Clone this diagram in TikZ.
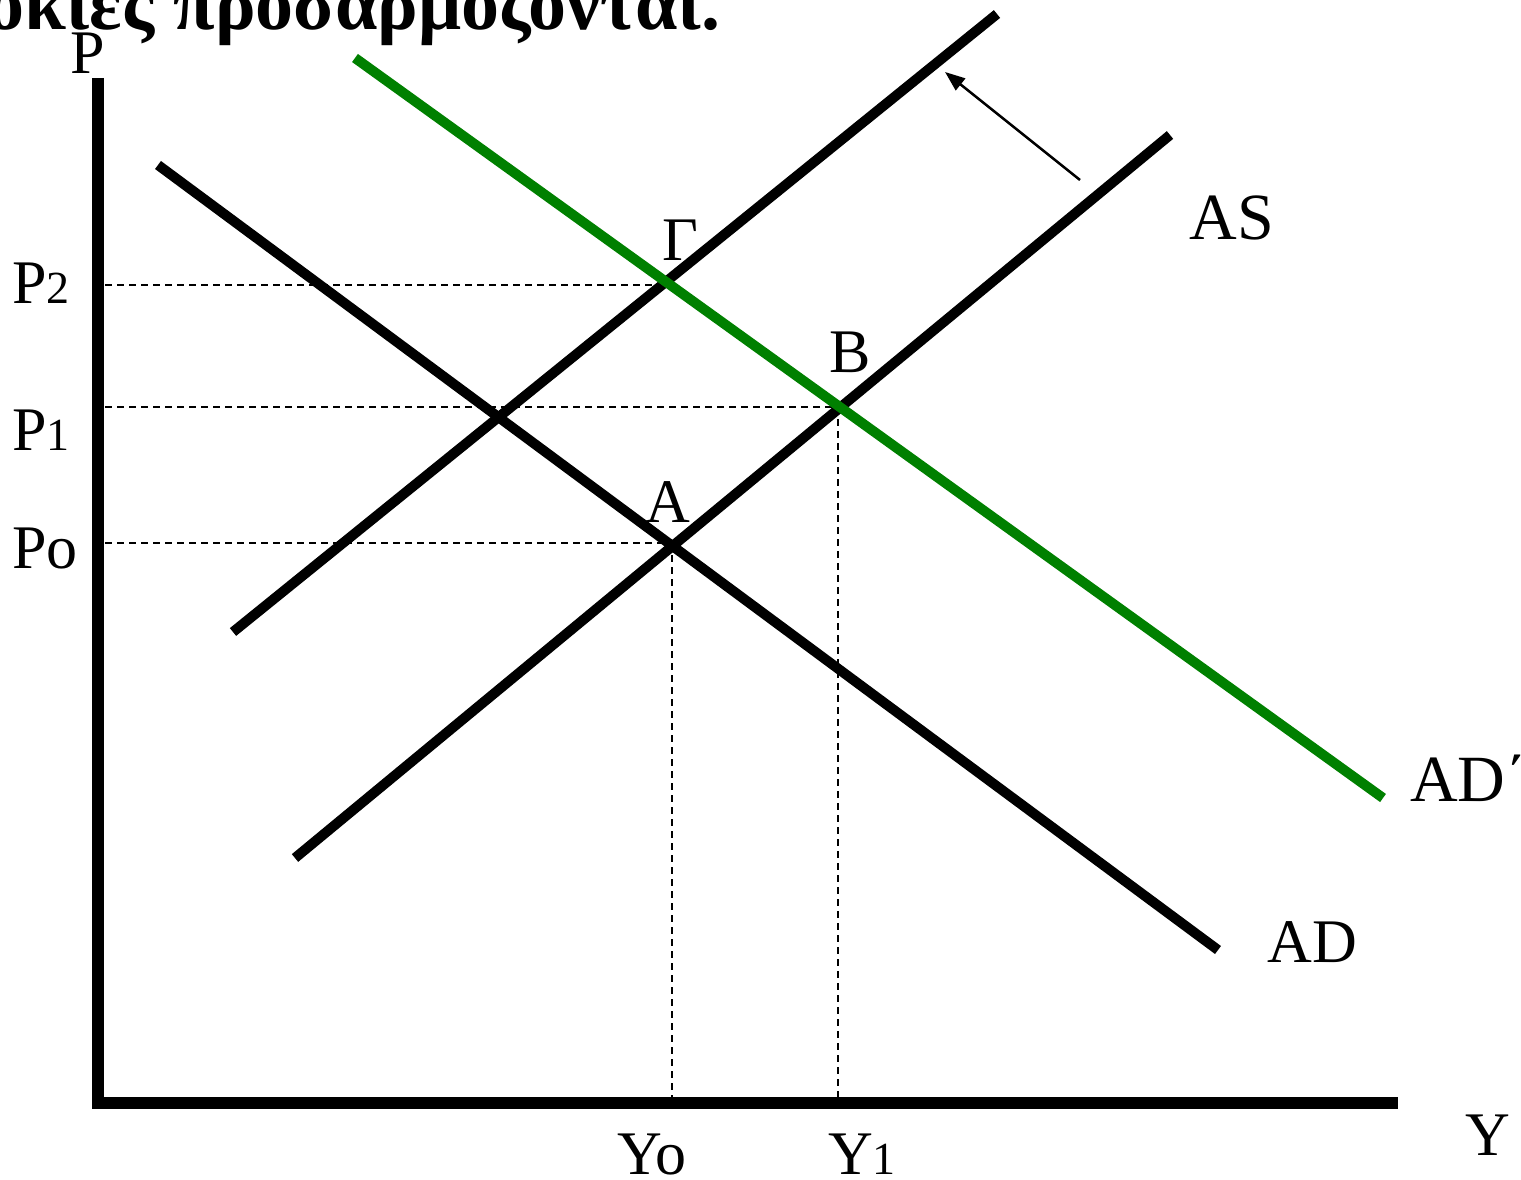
\documentclass[tikz,border=0pt]{standalone}
\usepackage{fontspec}
\setmainfont{Liberation Serif}
\usetikzlibrary{arrows.meta}
\begin{document}
\begin{tikzpicture}[x=1pt,y=-1pt,
  curve/.style={line width=10pt},
  axisline/.style={line width=12pt},
  guide/.style={line width=1.8pt,dash pattern=on 7pt off 5pt},
  lbl/.style={font=\fontsize{62}{70}\selectfont, inner sep=0pt},
  biglbl/.style={font=\fontsize{66}{74}\selectfont, inner sep=0pt},
  shiftarrow/.style={line width=2.5pt,-{Triangle[length=20pt,width=15pt]}},
  titletext/.style={font=\fontsize{76}{84}\selectfont\bfseries, inner sep=0pt, anchor=base west}]
\useasboundingbox (0,0) rectangle (1521,1180);
\clip (0,0) rectangle (1521,1180);
\definecolor{adgreen}{RGB}{0,128,0}

% title (cut off)
\node[titletext] (title) at (-14,30) {οκίες προσαρμόζονται.};

% axes
\coordinate (O) at (98,1103);
\coordinate (ytop) at (98,78);
\coordinate (xend) at (1398,1103);
\draw[axisline] (ytop) -- (O |- 0,1109) ;
\draw[axisline] (92,1103) -- (xend);

% curve endpoints
\coordinate (ad1) at (158,165);
\coordinate (ad2) at (1218,950);
\coordinate (as1) at (295,858);
\coordinate (as2) at (1170,135);
\coordinate (asb1) at (233,632);
\coordinate (asb2) at (997,14);
\coordinate (adp1) at (355,58);
\coordinate (adp2) at (1383,798);

% equilibrium points
\coordinate (ptA) at (672,543);
\coordinate (ptB) at (838,407);
\coordinate (ptG) at (665,285);

% guide lines
\coordinate (p2L) at (105,285);
\coordinate (p1L) at (105,407);
\coordinate (p0L) at (105,543);
\coordinate (y0B) at (672,1098);
\coordinate (y1B) at (838,1098);
\draw[guide] (p2L) -- (ptG);
\draw[guide] (p1L) -- (ptB);
\draw[guide] (p0L) -- (ptA);
\draw[guide] (ptA) -- (y0B);
\draw[guide] (ptB) -- (y1B);

% curves
\draw[curve] (ad1) -- (ad2);
\draw[curve] (as1) -- (as2);
\draw[curve] (asb1) -- (asb2);
\draw[curve, adgreen] (adp1) -- (adp2);

% shift arrow
\coordinate (arrTail) at (1080,180);
\coordinate (arrHead) at (945,72);
\draw[shiftarrow] (arrTail) -- (arrHead);

% labels
\node[lbl] (lP) at (88,53) {P};
\node[lbl, anchor=west] (lP2) at (12,283) {P{\fontsize{46}{46}\selectfont 2}};
\node[lbl, anchor=west] (lP1) at (12,430) {P{\fontsize{46}{46}\selectfont 1}};
\node[lbl, anchor=west] (lP0) at (12,548) {Po};
\node[lbl] (lY0) at (652,1154) {Yo};
\node[lbl] (lY1) at (862,1154) {Y{\fontsize{46}{46}\selectfont 1}};
\node[lbl] (lY) at (1488,1135) {Y};
\node[lbl] (lG) at (680,240) {Γ};
\node[lbl] (lB) at (850,352) {B};
\node[lbl] (lA) at (668,502) {A};
\node[biglbl] (lAS) at (1232,218) {AS};
\node[lbl] (lAD) at (1312,942) {AD};
\node[biglbl, anchor=west] (lADp) at (1410,778) {AD΄};
\end{tikzpicture}
\end{document}
